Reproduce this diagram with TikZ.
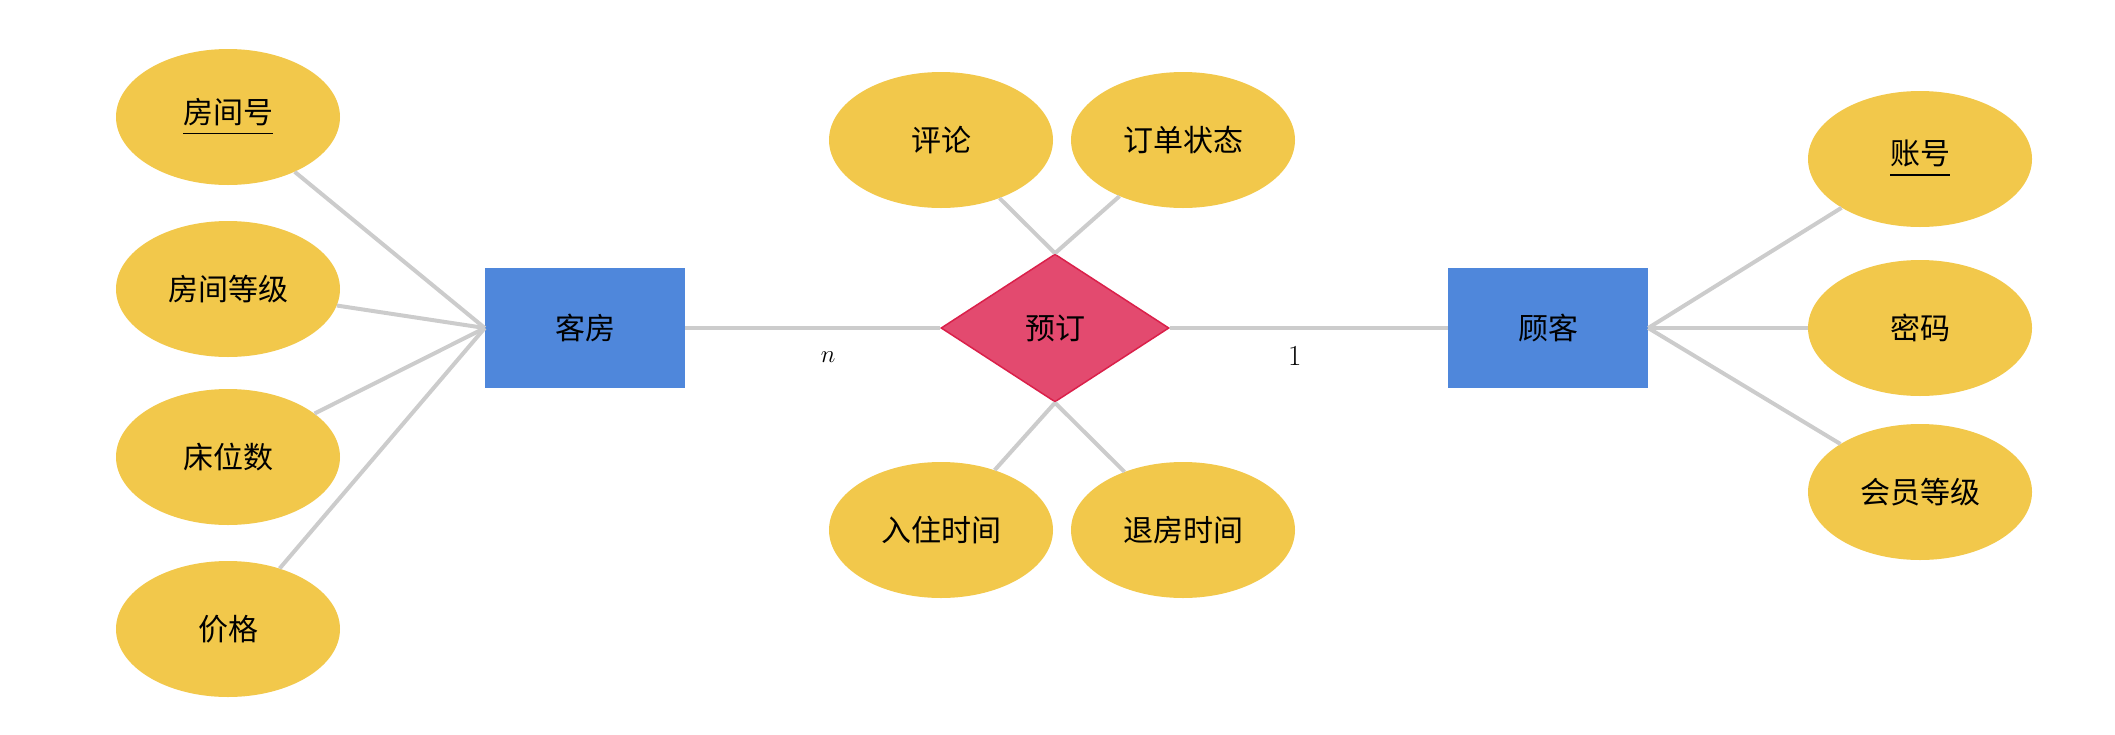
\documentclass[tikz,border=0pt]{standalone}
\usepackage{fontspec}
\newfontfamily\cjk{Noto Sans CJK SC}
\usetikzlibrary{shapes.geometric}
\definecolor{attrfill}{RGB}{242,200,75}
\definecolor{entfill}{RGB}{79,135,219}
\definecolor{relfill}{RGB}{227,74,111}
\definecolor{reldraw}{RGB}{218,32,74}
\definecolor{edgegray}{RGB}{204,204,204}
\newcommand\keyattr[1]{\vbox{\hbox{#1}\kern7pt\hrule height 1.2pt\kern2pt}}
\tikzset{
  attr/.style={ellipse, fill=attrfill, minimum width=224pt, minimum height=136pt, inner sep=0pt, font=\cjk\fontsize{30}{34}\selectfont},
  entity/.style={rectangle, fill=entfill, minimum width=200pt, minimum height=120pt, inner sep=0pt, font=\cjk\fontsize{30}{34}\selectfont},
  relation/.style={diamond, fill=relfill, draw=reldraw, line width=1.5pt, minimum width=228pt, minimum height=148pt, aspect=1.54, inner sep=0pt, font=\cjk\fontsize{30}{34}\selectfont},
  conn/.style={draw=edgegray, line width=4pt},
  card/.style={font=\fontsize{29}{33}\selectfont, text=black}
}
\begin{document}
\begin{tikzpicture}[x=1pt,y=-1pt]
\useasboundingbox (0,0) rectangle (2115,734);
% entities and relation
\node[entity] (kf) at (585,328) {客房};
\node[entity] (gk) at (1548,328) {顾客};
\node[relation] (yd) at (1055,328) {预订};
% attributes of 客房
\node[attr] (fjh) at (228,117) {\keyattr{房间号}};
\node[attr] (fjdj) at (228,289) {房间等级};
\node[attr] (cws) at (228,457) {床位数};
\node[attr] (jg) at (228,629) {价格};
% attributes of 预订
\node[attr] (pl) at (941,140) {评论};
\node[attr] (ddzt) at (1183,140) {订单状态};
\node[attr] (rzsj) at (941,530) {入住时间};
\node[attr] (tfsj) at (1183,530) {退房时间};
% attributes of 顾客
\node[attr] (zh) at (1920,159) {\keyattr{账号}};
\node[attr] (mm) at (1920,328) {密码};
\node[attr] (hydj) at (1920,492) {会员等级};
% connectors
\draw[conn] (fjh) -- (kf.west);
\draw[conn] (fjdj) -- (kf.west);
\draw[conn] (cws) -- (kf.west);
\draw[conn] (jg) -- (kf.west);
\draw[conn] (pl) -- (yd.north);
\draw[conn] (ddzt) -- (yd.north);
\draw[conn] (rzsj) -- (yd.south);
\draw[conn] (tfsj) -- (yd.south);
\draw[conn] (zh) -- (gk.east);
\draw[conn] (mm) -- (gk.east);
\draw[conn] (hydj) -- (gk.east);
\draw[conn] (kf.east) -- node[card, pos=0.56, yshift=-29pt] {$n$} (yd.west);
\draw[conn] (yd.east) -- node[card, pos=0.45, yshift=-28pt] {1} (gk.west);
\end{tikzpicture}
\end{document}
